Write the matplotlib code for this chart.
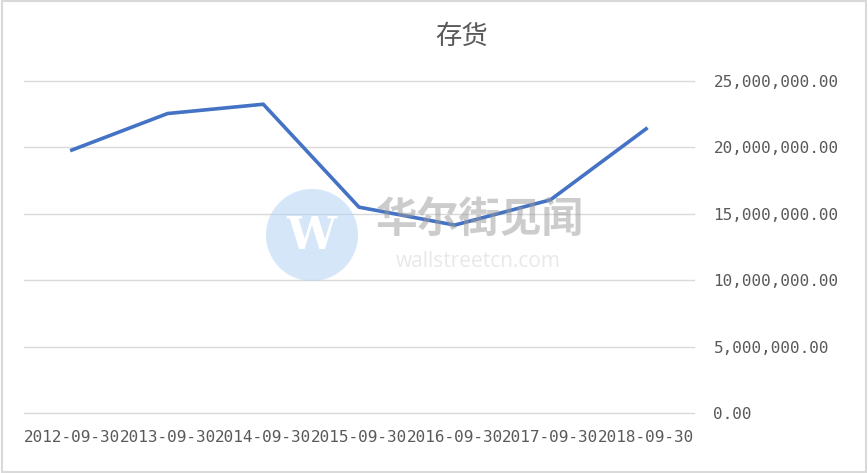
import matplotlib.pyplot as plt
from matplotlib.patches import Ellipse, Rectangle
from matplotlib.ticker import FuncFormatter

# 数据
dates = ["2012-09-30", "2013-09-30", "2014-09-30", "2015-09-30",
         "2016-09-30", "2017-09-30", "2018-09-30"]
inventory = [19800000, 22550000, 23250000, 15500000, 14150000, 16050000, 21400000]
y_ticks = [0, 5000000, 10000000, 15000000, 20000000, 25000000]

text_color = "#595959"
mono = "DejaVu Sans Mono"

fig = plt.figure(figsize=(8.68, 4.73), dpi=100)
fig.patches.append(Rectangle((0.002, 0.002), 0.996, 0.996, transform=fig.transFigure,
                             fill=False, edgecolor="#d9d9d9", linewidth=1.5))

ax = fig.add_axes([24 / 868, 60 / 473, 670 / 868, 332 / 473])
ax.set_facecolor("none")

# 水印（画在折线之上，半透明）
fig.patches.append(Ellipse((312 / 868, 1 - 235 / 473), 92 / 868, 92 / 473,
                           transform=fig.transFigure, facecolor="#b3d3f4", edgecolor="none",
                           linewidth=0, alpha=0.55, zorder=2))
fig.text(311 / 868, 1 - 236 / 473, "W", fontsize=32, color="white", ha="center",
         va="center", family="DejaVu Serif", fontweight="bold", zorder=3)
fig.text(480 / 868, 1 - 220 / 473, "华尔街见闻", fontsize=30, color="#9a9a9a", alpha=0.5,
         ha="center", va="center", family="Noto Sans CJK SC", fontweight="bold", zorder=3)
fig.text(478 / 868, 1 - 261 / 473, "wallstreetcn.com", fontsize=15, color="#dadada", alpha=0.6,
         ha="center", va="center", family="Open Sans", zorder=3)

ax.plot(range(len(dates)), inventory, color="#4472C4", linewidth=2.6,
        solid_joinstyle="miter", zorder=3)

ax.set_xlim(-0.5, len(dates) - 0.5)
ax.set_ylim(0, 25000000)
ax.set_yticks(y_ticks)
ax.yaxis.set_major_formatter(FuncFormatter(lambda v, p: f"{v:,.2f}"))
ax.yaxis.tick_right()
ax.grid(axis="y", color="#d9d9d9", linewidth=1)
for gl in ax.get_ygridlines():
    gl.set_clip_on(False)
ax.set_axisbelow(True)
for s in ax.spines.values():
    s.set_visible(False)

ax.set_xticks(range(len(dates)))
ax.set_xticklabels(dates)
ax.tick_params(axis="both", length=0, labelcolor=text_color, labelsize=11.5)
ax.tick_params(axis="y", pad=14)
ax.tick_params(axis="x", pad=12)
for lab in ax.get_xticklabels() + ax.get_yticklabels():
    lab.set_family(mono)

fig.text(462 / 868, 1 - 36 / 473, "存货", fontsize=19, color=text_color,
         ha="center", va="center", family="Noto Sans CJK SC", fontweight="light")

fig.savefig("out.png", dpi=100)
